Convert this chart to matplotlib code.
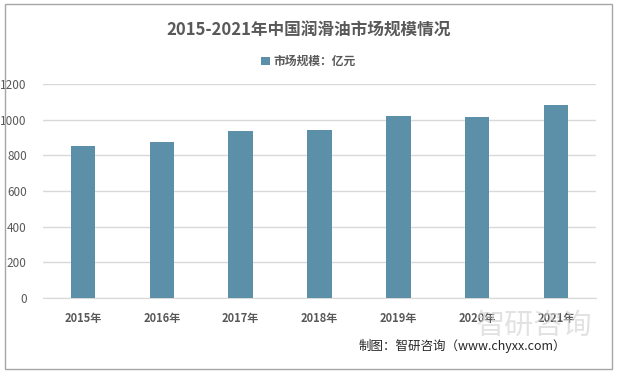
import matplotlib.pyplot as plt
from matplotlib.patches import Rectangle

plt.rcParams['font.family'] = ['Noto Sans CJK SC', 'DejaVu Sans']

years = ['2015年', '2016年', '2017年', '2018年', '2019年', '2020年', '2021年']
market_size = [850, 876, 938, 944, 1023, 1016, 1083]
y_ticks = [0, 200, 400, 600, 800, 1000, 1200]

bar_color = '#5b90a8'
text_grey = '#595959'

fig = plt.figure(figsize=(6.17, 3.73), dpi=100)
ax = fig.add_axes([0.0705, 0.2011, 0.8947, 0.5737])

x = range(len(years))
ax.bar(x, market_size, width=0.31, color=bar_color, zorder=3, label='市场规模：亿元')

ax.set_xlim(-0.5, len(years) - 0.5)
ax.set_ylim(0, 1200)
ax.set_yticks(y_ticks)
ax.set_yticklabels([str(v) for v in y_ticks], fontsize=8.5, color=text_grey)
ax.set_xticks(list(x))
ax.set_xticklabels(years, fontsize=8, color=text_grey, fontweight='bold')
ax.tick_params(axis='both', length=0)
ax.tick_params(axis='x', pad=10)
ax.tick_params(axis='y', pad=12)
ax.grid(axis='y', color='#d9d9d9', linewidth=1, zorder=0)
for side in ['top', 'right', 'left']:
    ax.spines[side].set_visible(False)
ax.spines['bottom'].set_color('#d9d9d9')

fig.text(0.5, 0.918, '2015-2021年中国润滑油市场规模情况', ha='center', va='center',
         fontsize=12, fontweight='bold', color=text_grey)

leg = fig.legend(loc='center', bbox_to_anchor=(0.5, 0.835), frameon=False,
                 fontsize=8.5, handlelength=0.7, handleheight=0.7, handletextpad=0.3)
for t in leg.get_texts():
    t.set_color(text_grey)
    t.set_fontweight('bold')

# watermark
fig.text(0.865, 0.125, '智研咨询', ha='center', va='center', fontsize=21,
         color='#d0d0d0', alpha=0.6, zorder=0)
fig.text(0.75, 0.072, '制图：智研咨询（www.chyxx.com）', ha='center', va='center',
         fontsize=9, color='#262626')

# outer border
fig.patches.append(Rectangle((0.008, 0.012), 0.984, 0.976, transform=fig.transFigure,
                             fill=False, edgecolor='#a6a6a6', linewidth=1))

fig.savefig('out.png', dpi=100)
